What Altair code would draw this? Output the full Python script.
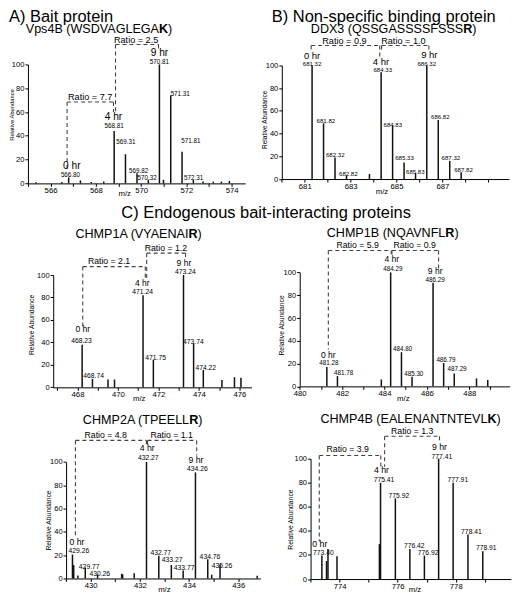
import altair as alt
import pandas as pd

# ====================== DATA ======================
# Panel A  - Vps4B
A_PEAK_MZ = [565.36, 566.50, 566.80, 567.32, 567.80, 568.35, 568.81, 569.31, 569.82, 570.32,
             570.81, 570.99, 571.31, 571.81, 572.31, 572.74, 573.19, 573.55, 573.90]
A_PEAK_INT = [1.0, 1.2, 5.0, 2.5, 1.2, 1.5, 44, 24.5, 8.5, 3.0,
              100, 3.0, 74, 26.5, 3.0, 1.5, 1.5, 1.5, 2.0]
A_MZ_LABELS = ["566.80", "568.81", "569.31", "569.82", "570.32", "570.81", "571.31", "571.81", "572.31"]
A_MZ_LABEL_X = [566.88, 568.81, 569.33, 569.89, 570.27, 570.81, 571.73, 572.20, 572.32]
A_MZ_LABEL_Y = [7.1, 48.6, 34.8, 10.7, 4.6, 102.6, 75.3, 36.0, 5.3]
A_HR_X = [566.94, 568.78, 570.81]
A_HR_Y = [12.6, 53.8, 107.9]
A_RATIOS = ["Ratio = 7.7", "Ratio = 2.5"]
A_RATIO_X = [567.75, 569.78]
A_RATIO_Y = [72.9, 121.0]
A_BR_X1 = [566.73, 568.87]
A_BR_X2 = [568.78, 570.77]
A_BR_TOP = [68.4, 116.8]
A_BR_LEFT_END = [10.9, 59.5]
A_BR_RIGHT_END = [60.0, 113.5]

# Panel B  - DDX3
B_PEAK_MZ = [681.32, 681.82, 682.32, 682.82, 683.82, 684.33, 684.83, 685.33, 685.83, 686.32, 686.82, 687.32, 687.82]
B_PEAK_INT = [100, 49, 19, 3, 4.5, 94, 47, 14.5, 5, 100, 52, 16, 6]
B_MZ_LABELS = ["681.32", "681.82", "682.32", "682.82", "684.33", "684.83", "685.33", "685.83",
               "686.32", "686.82", "687.32", "687.82"]
B_MZ_LABEL_X = [681.32, 681.92, 682.33, 682.90, 684.40, 684.84, 685.35, 685.82, 686.32, 686.91, 687.37, 687.92]
B_MZ_LABEL_Y = [101.5, 51.5, 21.4, 4.8, 96.2, 47.6, 18.6, 6.6, 101.5, 54.9, 19.2, 8.3]
B_HR_X = [681.32, 684.32, 686.43]
B_HR_Y = [106.5, 101.4, 107.0]
B_RATIOS = ["Ratio = 0.9", "Ratio = 1.0"]
B_RATIO_X = [682.73, 685.30]
B_RATIO_Y = [122.0, 122.0]
B_BR_X1 = [681.28, 684.35]
B_BR_X2 = [684.27, 686.41]
B_BR_TOP = [117.5, 117.5]
B_BR_LEFT_END = [113.6, 113.6]
B_BR_RIGHT_END = [107.4, 113.6]

# Panel C1 - CHMP1A
C1_PEAK_MZ = [468.23, 468.74, 469.51, 469.83, 471.24, 471.75, 473.24, 473.74, 474.22, 475.14, 475.76, 476.08]
C1_PEAK_INT = [38, 7.5, 7, 7, 82, 24.5, 100, 39, 15.5, 6.5, 9, 8.5]
C1_MZ_LABELS = ["468.23", "468.74", "471.24", "471.75", "473.24", "473.74", "474.22"]
C1_MZ_LABEL_X = [468.20, 468.80, 471.22, 471.86, 473.33, 473.73, 474.34]
C1_MZ_LABEL_Y = [41.4, 10.4, 85.4, 26.6, 103.3, 40.4, 18.0]
C1_HR_X = [468.26, 471.20, 473.26]
C1_HR_Y = [50.2, 91.6, 109.0]
C1_RATIOS = ["Ratio = 2.1", "Ratio = 1.2"]
C1_RATIO_X = [469.56, 472.37]
C1_RATIO_Y = [112.8, 124.2]
C1_BR_X1 = [468.26, 471.42]
C1_BR_X2 = [471.35, 473.34]
C1_BR_TOP = [107.5, 119.5]
C1_BR_LEFT_END = [53.7, 95.2]
C1_BR_RIGHT_END = [95.2, 113.7]

# Panel C2 - CHMP1B
C2_PEAK_MZ = [481.28, 481.78, 483.85, 484.29, 484.80, 485.30, 486.29, 486.79, 487.29, 488.34, 488.87]
C2_PEAK_INT = [17, 9, 6, 100, 30, 8.5, 91, 20.5, 11.3, 7, 5.5]
C2_MZ_LABELS = ["481.28", "481.78", "484.29", "484.80", "485.30", "486.29", "486.79", "487.29"]
C2_MZ_LABEL_X = [481.38, 482.07, 484.39, 484.85, 485.38, 486.39, 486.90, 487.42]
C2_MZ_LABEL_Y = [21.2, 11.9, 103.8, 33.0, 11.1, 93.7, 23.2, 15.6]
C2_HR_X = [481.35, 484.34, 486.39]
C2_HR_Y = [26.5, 110.6, 100.0]
C2_RATIOS = ["Ratio = 5.9", "Ratio = 0.9"]
C2_RATIO_X = [482.73, 485.42]
C2_RATIO_Y = [124.3, 124.3]
C2_BR_X1 = [481.35, 484.35]
C2_BR_X2 = [484.32, 486.55]
C2_BR_TOP = [119.2, 119.2]
C2_BR_LEFT_END = [32.4, 116.0]
C2_BR_RIGHT_END = [116.0, 102.8]

# Panel C3 - CHMP2A
C3_PEAK_MZ = [429.26, 429.31, 429.48, 429.78, 430.28, 431.26, 431.30, 431.77, 432.27, 432.77,
              433.28, 433.76, 434.26, 434.76, 434.92, 435.26, 436.77]
C3_PEAK_INT = [20.5, 11.5, 2.5, 9.5, 3.5, 4, 3.5, 4.5, 100, 19.5,
               11.5, 6.8, 91, 16.5, 3.3, 11.8, 2.3]
C3_MZ_LABELS = ["429.26", "429.77", "430.26", "432.27", "432.77", "433.27", "433.77", "434.26", "434.76", "435.26"]
C3_MZ_LABEL_X = [429.52, 429.94, 430.37, 432.34, 432.85, 433.31, 433.80, 434.34, 434.85, 435.34]
C3_MZ_LABEL_Y = [23.6, 10.5, 4.5, 103.5, 22.2, 16.0, 9.8, 94.4, 18.9, 11.2]
C3_HR_X = [429.44, 432.30, 434.28]
C3_HR_Y = [29.8, 110.5, 100.0]
C3_RATIOS = ["Ratio = 4.8", "Ratio = 1.1"]
C3_RATIO_X = [430.61, 433.29]
C3_RATIO_Y = [123.5, 123.5]
C3_BR_X1 = [429.38, 432.31]
C3_BR_X2 = [432.27, 434.31]
C3_BR_TOP = [118.5, 118.5]
C3_BR_LEFT_END = [35.3, 114.4]
C3_BR_RIGHT_END = [114.4, 105.5]

# Panel C4 - CHMP4B
C4_PEAK_MZ = [773.39, 773.55, 773.60, 773.91, 775.37, 775.41, 775.92, 776.42, 776.92, 777.41, 777.91, 778.42, 778.93]
C4_PEAK_INT = [19.5, 15, 25, 19, 29, 80, 67, 25, 19.5, 100, 80, 37, 23]
C4_MZ_LABELS = ["773.40", "775.41", "775.92", "776.42", "776.92", "777.41", "777.91", "778.41", "778.91"]
C4_MZ_LABEL_X = [773.44, 775.53, 776.04, 776.57, 777.05, 777.52, 778.07, 778.54, 779.05]
C4_MZ_LABEL_Y = [22.0, 82.6, 69.3, 27.8, 22.0, 102.2, 82.6, 39.3, 26.6]
C4_HR_X = [773.32, 775.44, 777.44]
C4_HR_Y = [28.2, 89.0, 108.2]
C4_RATIOS = ["Ratio = 3.9", "Ratio = 1.3"]
C4_RATIO_X = [774.28, 776.50]
C4_RATIO_Y = [108.2, 123.0]
C4_BR_X1 = [773.30, 775.55]
C4_BR_X2 = [775.42, 777.44]
C4_BR_TOP = [102.6, 118.6]
C4_BR_LEFT_END = [31.2, 93.3]
C4_BR_RIGHT_END = [93.3, 114.6]

HR_LABELS = ["0 hr", "4 hr", "9 hr"]
Y_TICKS = [0, 20, 40, 60, 80, 100]

# ====================== LAYOUT ======================
FONT = "Liberation Sans"
SX, SY, FS = 0.97, 0.965, 0.97


def X(rx):
    return (rx - 1.0) * SX


def Y(ry):
    return (ry - 2.0) * SY


COL_X = [0.0, X(261)]
COL_W = [X(261), X(522) - X(261)]
ROW_Y = [0.0, Y(200), Y(402)]
ROW_H = [Y(200), Y(402) - Y(200), Y(609) - Y(402)]

HELV = {' ': 278, '(': 333, ')': 333, 'p': 556, 's': 500,
        'A': 667, 'B': 667, 'C': 722, 'D': 722, 'E': 667, 'F': 611, 'G': 778, 'H': 722, 'I': 278,
        'J': 500, 'K': 667, 'L': 556, 'M': 833, 'N': 722, 'O': 778, 'P': 667, 'Q': 778, 'R': 722,
        'S': 667, 'T': 611, 'U': 722, 'V': 667, 'W': 944, 'X': 667, 'Y': 667, 'Z': 611}
HELV_BOLD = {'K': 722, 'R': 722}


def tw(s, fs, bold=False):
    tab = HELV_BOLD if bold else HELV
    return sum(tab.get(c, 556) for c in s) / 1000.0 * fs


PANELS = [
    dict(col=0, row=0, peaks=(A_PEAK_MZ, A_PEAK_INT),
         mzl=(A_MZ_LABELS, A_MZ_LABEL_X, A_MZ_LABEL_Y), hr=(A_HR_X, A_HR_Y),
         rat=(A_RATIOS, A_RATIO_X, A_RATIO_Y),
         br=(A_BR_X1, A_BR_X2, A_BR_TOP, A_BR_LEFT_END, A_BR_RIGHT_END),
         xdom=[565.0, 574.6], xr=[21.6, 246.0], yb=183.5, yt=60.0,
         xticks=list(range(565, 575)), xlabels=[566, 568, 570, 572, 574],
         ytitle=(4.8, 112.0), ytfs=6.0, mzt=(121.0, 194.0),
         sub=("Vps4B (WSDVAGLEGA", "K", 94.5, 27.0),
         heads=[("A) Bait protein", 2.0, 15.7)],
         fs_mz=6.5, fs_hr=10.5, fs_rat=9.4, hr_dy=-2.5, rat_dy=0.3),
    dict(col=1, row=0, peaks=(B_PEAK_MZ, B_PEAK_INT),
         mzl=(B_MZ_LABELS, B_MZ_LABEL_X, B_MZ_LABEL_Y), hr=(B_HR_X, B_HR_Y),
         rat=(B_RATIOS, B_RATIO_X, B_RATIO_Y),
         br=(B_BR_X1, B_BR_X2, B_BR_TOP, B_BR_LEFT_END, B_BR_RIGHT_END),
         xdom=[680.0, 689.9], xr=[283.0, 517.6], yb=179.0, yt=61.0,
         xticks=list(range(680, 690)), xlabels=[681, 683, 685, 687],
         ytitle=(265.5, 117.0), ytfs=6.8, mzt=(386.0, 191.5),
         sub=("DDX3 (QSSGASSSSFSSS", "R", 398.5, 27.3),
         heads=[("B) Non-specific binding protein", 272.7, 15.7)],
         fs_mz=6.3, fs_hr=9.8, fs_rat=9.4, hr_dy=-2.0, rat_dy=0.3),
    dict(col=0, row=1, peaks=(C1_PEAK_MZ, C1_PEAK_INT),
         mzl=(C1_MZ_LABELS, C1_MZ_LABEL_X, C1_MZ_LABEL_Y), hr=(C1_HR_X, C1_HR_Y),
         rat=(C1_RATIOS, C1_RATIO_X, C1_RATIO_Y),
         br=(C1_BR_X1, C1_BR_X2, C1_BR_TOP, C1_BR_LEFT_END, C1_BR_RIGHT_END),
         xdom=[466.8, 476.6], xr=[47.7, 252.5], yb=394.3, yt=277.7,
         xticks=list(range(467, 477)), xlabels=[468, 470, 472, 474, 476],
         ytitle=(25.0, 329.0), ytfs=7.0, mzt=(136.0, 405.5),
         sub=("CHMP1A (VYAENAI", "R", 135.0, 239.3),
         heads=[("C) Endogenous bait-interacting proteins", 118.0, 218.0)],
         fs_mz=7.0, fs_hr=8.8, fs_rat=9.0, hr_dy=-1.5, rat_dy=0.0),
    dict(col=1, row=1, peaks=(C2_PEAK_MZ, C2_PEAK_INT),
         mzl=(C2_MZ_LABELS, C2_MZ_LABEL_X, C2_MZ_LABEL_Y), hr=(C2_HR_X, C2_HR_Y),
         rat=(C2_RATIOS, C2_RATIO_X, C2_RATIO_Y),
         br=(C2_BR_X1, C2_BR_X2, C2_BR_TOP, C2_BR_LEFT_END, C2_BR_RIGHT_END),
         xdom=[480.0, 489.9], xr=[301.5, 518.3], yb=393.3, yt=275.0,
         xticks=list(range(480, 490)), xlabels=[480, 482, 484, 486, 488],
         ytitle=(282.7, 329.5), ytfs=7.0, mzt=(408.0, 406.0),
         sub=("CHMP1B (NQAVNFL", "R", 397.0, 238.3),
         heads=[],
         fs_mz=6.5, fs_hr=8.8, fs_rat=9.0, hr_dy=-1.5, rat_dy=0.0),
    dict(col=0, row=2, peaks=(C3_PEAK_MZ, C3_PEAK_INT),
         mzl=(C3_MZ_LABELS, C3_MZ_LABEL_X, C3_MZ_LABEL_Y), hr=(C3_HR_X, C3_HR_Y),
         rat=(C3_RATIOS, C3_RATIO_X, C3_RATIO_Y),
         br=(C3_BR_X1, C3_BR_X2, C3_BR_TOP, C3_BR_LEFT_END, C3_BR_RIGHT_END),
         xdom=[429.0, 436.9], xr=[61.0, 261.7], yb=592.7, yt=471.7,
         xticks=list(range(429, 437)), xlabels=[430, 432, 434, 436],
         ytitle=(43.3, 532.0), ytfs=7.0, mzt=(162.0, 604.0),
         sub=("CHMP2A (TPEELL", "R", 139.7, 432.7),
         heads=[],
         fs_mz=7.0, fs_hr=9.0, fs_rat=9.0, hr_dy=-1.5, rat_dy=0.0),
    dict(col=1, row=2, peaks=(C4_PEAK_MZ, C4_PEAK_INT),
         mzl=(C4_MZ_LABELS, C4_MZ_LABEL_X, C4_MZ_LABEL_Y), hr=(C4_HR_X, C4_HR_Y),
         rat=(C4_RATIOS, C4_RATIO_X, C4_RATIO_Y),
         br=(C4_BR_X1, C4_BR_X2, C4_BR_TOP, C4_BR_LEFT_END, C4_BR_RIGHT_END),
         xdom=[773.0, 779.9], xr=[312.7, 519.7], yb=593.3, yt=468.3,
         xticks=list(range(773, 780)), xlabels=[774, 776, 778],
         ytitle=(291.7, 531.0), ytfs=7.0, mzt=(420.0, 604.5),
         sub=("CHMP4B (EALENANTNTEVL", "K", 416.0, 431.0),
         heads=[],
         fs_mz=7.0, fs_hr=9.0, fs_rat=9.0, hr_dy=-1.5, rat_dy=0.0),
]


def static_text(text, x, y, size, align="left", weight="normal", baseline="alphabetic"):
    return alt.Chart(pd.DataFrame({"t": [text]})).mark_text(
        font=FONT, fontSize=size, align=align, baseline=baseline, fontWeight=weight, color="black"
    ).encode(x=alt.value(x), y=alt.value(y), text="t:N")


def make_panel(P):
    gx, gy = COL_X[P["col"]], ROW_Y[P["row"]]
    W, H = COL_W[P["col"]], ROW_H[P["row"]]

    def lx(rx):
        return X(rx) - gx

    def ly(ry):
        return Y(ry) - gy

    x0, x1 = lx(P["xr"][0]), lx(P["xr"][1])
    yb, yt = ly(P["yb"]), ly(P["yt"])
    xs = alt.Scale(domain=P["xdom"], range=[x0, x1], nice=False, zero=False)
    ys = alt.Scale(domain=[0, 100], range=[yb, yt], nice=False, zero=False)

    xaxis = alt.Axis(
        values=P["xticks"],
        labelExpr="indexof(%s, datum.value) >= 0 ? datum.label : ''" % str(P["xlabels"]),
        title="m/z", titleX=lx(P["mzt"][0]), titleY=(P["mzt"][1] - P["yb"]) * SY,
        titleAlign="center", titleBaseline="middle", titleFontSize=8 * FS,
        offset=yb - H, labelFlush=False, labelOverlap=False, grid=False,
        tickSize=3, labelPadding=0, labelFontSize=8 * FS,
    )
    yaxis = alt.Axis(
        values=Y_TICKS, title="Relative Abundance",
        titleX=(P["ytitle"][0] - P["xr"][0]) * SX, titleY=ly(P["ytitle"][1]),
        titleAngle=270, titleAlign="center", titleBaseline="middle", titleFontSize=P["ytfs"] * FS,
        offset=-x0, labelFlush=False, labelOverlap=False, grid=False,
        tickSize=3, labelPadding=1, labelFontSize=7.8 * FS,
    )

    pk = pd.DataFrame({"mz": P["peaks"][0], "inten": P["peaks"][1]})
    pk["base"] = 0.0
    peaks = alt.Chart(pk).mark_rule(color="#111111", strokeWidth=1.5).encode(
        x=alt.X("mz:Q", scale=xs, axis=xaxis),
        y=alt.Y("inten:Q", scale=ys, axis=yaxis),
        y2=alt.Y2("base:Q"),
    )

    segs = []
    for a, b, top, le, re in zip(*P["br"]):
        segs.append((a, b, top, top))
        segs.append((a, a, top, le))
        segs.append((b, b, top, re))
    bdf = pd.DataFrame(segs, columns=["mz", "mz2", "inten", "inten2"])
    brackets = alt.Chart(bdf).mark_rule(color="#444444", strokeWidth=1.1, strokeDash=[4, 3]).encode(
        x=alt.X("mz:Q", scale=xs, axis=xaxis), x2="mz2:Q",
        y=alt.Y("inten:Q", scale=ys, axis=yaxis), y2="inten2:Q",
    )

    def tlayer(texts, xv, yv, size, dy=0.0):
        df = pd.DataFrame({"t": texts, "mz": xv, "inten": yv})
        return alt.Chart(df).mark_text(
            font=FONT, fontSize=size * FS, align="center", baseline="middle", color="black", dy=dy
        ).encode(
            x=alt.X("mz:Q", scale=xs, axis=xaxis),
            y=alt.Y("inten:Q", scale=ys, axis=yaxis),
            text="t:N",
        )

    layers = [peaks, brackets,
              tlayer(*P["mzl"], P["fs_mz"], 0.5),
              tlayer(HR_LABELS, P["hr"][0], P["hr"][1], P["fs_hr"], P["hr_dy"]),
              tlayer(*P["rat"], P["fs_rat"], P["rat_dy"])]

    # subtitle with bold final residue
    pre, bold, cx, base = P["sub"]
    sfs = 13 * FS
    total = tw(pre, sfs) + tw(bold, sfs, True) + tw(")", sfs)
    xm = lx(cx) - total / 2 + tw(pre, sfs)
    layers.append(static_text(pre, xm, ly(base), sfs, align="right"))
    layers.append(static_text(bold, xm, ly(base), sfs, align="left", weight="bold"))
    layers.append(static_text(")", xm + tw(bold, sfs, True), ly(base), sfs, align="left"))
    for txt, rx, ry in P["heads"]:
        layers.append(static_text(txt, lx(rx), ly(ry), 17 * FS, align="left"))

    return alt.layer(*layers).properties(width=W, height=H)


charts = [make_panel(P) for P in PANELS]
chart = alt.concat(*charts, columns=2, spacing=0, bounds="flush").properties(
    padding=0
).configure_view(strokeWidth=0).configure_axis(
    domainColor="black", tickColor="black", labelColor="black", titleColor="black",
    labelFont=FONT, titleFont=FONT, titleFontWeight="normal", domainWidth=1, tickWidth=1,
)

chart.save("out.html", embed_options={"renderer": "svg", "actions": False})
